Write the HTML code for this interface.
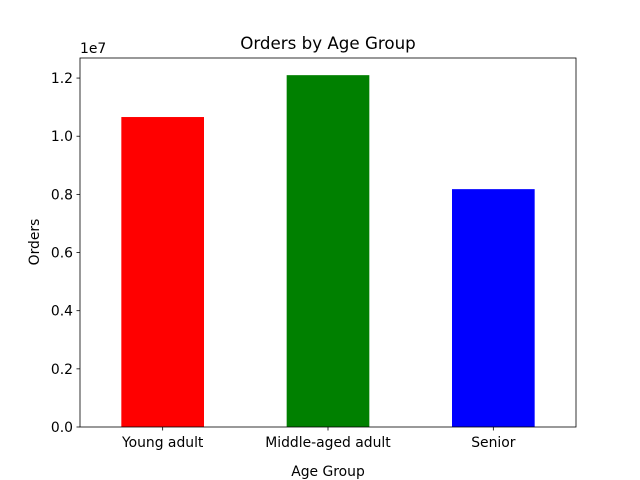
<!DOCTYPE html>
<html><head><meta charset="utf-8"><style>
body{margin:0;background:#fff;}
svg{display:block;font-family:"DejaVu Sans","Liberation Sans",sans-serif;}
</style></head><body>
<svg id="chart" width="640" height="480">
<rect width="640" height="480" fill="#fff"/>
<text x="328" y="49" font-size="16.7" text-anchor="middle">Orders by Age Group</text>
<text x="80" y="53" font-size="13.9">1e7</text>
<text x="328" y="476" font-size="13.9" text-anchor="middle">Age Group</text>
<text x="39" y="242" font-size="13.9" text-anchor="middle" transform="rotate(-90 39 242)">Orders</text>
<g id="bars"></g>
<g id="yticks"></g>
<g id="xticks"></g>
<rect x="80" y="58" width="496" height="369" fill="none" stroke="#000" stroke-width="0.8"/>
</svg>
<script>
const categories = ["Young adult", "Middle-aged adult", "Senior"];
const orders = [10660000, 12100000, 8180000];
const colors = ["#ff0000", "#008000", "#0000ff"];
const yTickValues = [0, 2000000, 4000000, 6000000, 8000000, 10000000, 12000000];
const yTickLabels = ["0.0", "0.2", "0.4", "0.6", "0.8", "1.0", "1.2"];
const PL=80, PR=576, PT=58, PB=427, yMax=12690000;
const NS="http://www.w3.org/2000/svg";
function sy(v){return PB-(v/yMax)*(PB-PT);}
function sx(i){return PL+(i+0.5)*(PR-PL)/categories.length;}
const bw=0.5*(PR-PL)/categories.length;
function mk(tag,attrs,parent){const e=document.createElementNS(NS,tag);for(const k in attrs)e.setAttribute(k,attrs[k]);parent.appendChild(e);return e;}
const bars=document.getElementById('bars');
orders.forEach((v,i)=>{
 const r=mk('rect',{x:sx(i)-bw/2,y:sy(v),width:bw,height:PB-sy(v),fill:colors[i]},bars);
 
 
});
const yt=document.getElementById('yticks');
yTickValues.forEach((v,i)=>{
 const l=mk('line',{x1:PL-3.5,x2:PL,y1:sy(v),y2:sy(v),stroke:'#000','stroke-width':0.8},yt);
 
 
 const t=mk('text',{x:PL-7,y:sy(v)+5,'font-size':13.9,'text-anchor':'end'},yt);
 t.textContent=yTickLabels[i];
 
 
});
const xt=document.getElementById('xticks');
categories.forEach((c,i)=>{
 const l=mk('line',{x1:sx(i),x2:sx(i),y1:PB,y2:PB+3.5,stroke:'#000','stroke-width':0.8},xt);
 
 
 const t=mk('text',{x:sx(i),y:PB+20,'font-size':13.9,'text-anchor':'middle'},xt);
 t.textContent=c;
 
 
});
</script>
</body></html>
